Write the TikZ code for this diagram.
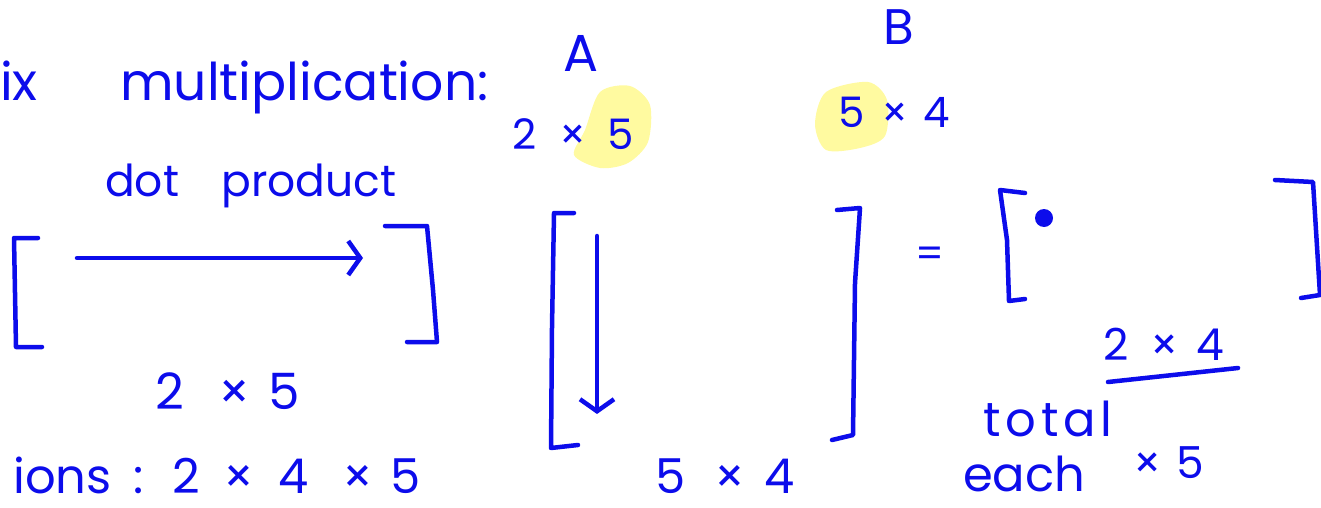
\documentclass[tikz,border=0pt]{standalone}
\usepackage{fontspec}
\setmainfont{Poppins}
\usetikzlibrary{arrows.meta}
\definecolor{ink}{RGB}{12,12,235}
\definecolor{marker}{RGB}{255,250,160}
\newcommand{\gap}[1]{\hspace{#1em}}% espace large de l'ecriture
\tikzset{
  hand_text/.style = {text=ink, inner sep=0pt, anchor=base west,
    font=\fontsize{#1}{#1}\selectfont},% texte a la main
  hand_text/.default = 50,
  hand_line/.style = {draw=ink, line width=4.5pt, line cap=round,
    line join=round},% trait de stylo
  hand_arrow/.style = {hand_line,
    -{Straight Barb[length=12pt, width=34pt]}},% fleche ouverte
  marker_blob/.style = {fill=marker, draw=none}% surligneur jaune
}

\begin{document}
\begin{tikzpicture}[x=1pt, y=-1pt]
  \useasboundingbox (0,0) rectangle (1321,508);
  \clip (0,0) rectangle (1321,508);
  % surligneur
  \fill[marker_blob] plot[smooth cycle] coordinates {(600,92) (630,86) (650,105)
    (648,142) (628,163) (600,168) (574,155) (585,130)};
  \fill[marker_blob] plot[smooth cycle] coordinates {(826,92) (868,82) (887,100)
    (885,136) (860,148) (826,150) (815,124)};
  % titre
  \node [hand_text=52] (title_cut) at (0,101) {ix};
  \node [hand_text=52] (title) at (120,101) {multiplication:};
  \node [hand_text=52] (name_a) at (563,72) {A};
  \node [hand_text=50] (name_b) at (883,45) {B};
  \node [hand_text=42] (dim_a) at (512,149) {2\gap{0.55}×\gap{0.5}5};
  \node [hand_text=42] (dim_b) at (838,128) {5\gap{0.4}×\gap{0.35}4};
  % ligne de A
  \node [hand_text=44] (dot_label) at (105,196) {dot \gap{0.7}product};
  \draw [hand_line] (38,238) -- (14,238) -- (16,347) -- (42,347);
  \coordinate (row_start) at (77,258);
  \coordinate (row_end) at (363,258);
  \draw [hand_arrow] (row_start) -- (row_end);
  \draw [hand_line] (385,226) -- (427,226) -- (433,290) -- (437,342) -- (407,342);
  \node [hand_text=50] (row_dim) at (155,409) {2\gap{0.7}×\gap{0.35}5};
  % colonne de B
  \draw [hand_line] (574,213) -- (554,213) -- (552,327) -- (551,448) -- (578,445);
  \coordinate (col_start) at (597,236);
  \coordinate (col_end) at (597,414);
  \draw [hand_arrow] (col_start) -- (col_end);
  \draw [hand_line] (837,210) -- (860,208) -- (855,283) -- (853,435) -- (832,440);
  \node [hand_text=48] (col_dim) at (655,493) {5\gap{0.6}×\gap{0.4}4};
  % resultat
  \node [hand_text=40, anchor=center] (equals) at (930,257) {=};
  \draw [hand_line] (1025,193) -- (1000,190) -- (1007,240) -- (1009,301) -- (1025,299);
  \fill [ink] (1044,218) circle (9);
  \draw [hand_line] (1275,180) -- (1313,182) -- (1320,295) -- (1301,298);
  \node [hand_text=44] (res_dim) at (1103,360) {2\gap{0.5}×\gap{0.4}4};
  \coordinate (bar_left) at (1108,382);
  \coordinate (bar_right) at (1238,368);
  \draw [hand_line] (bar_left) -- (bar_right);
  \node [hand_text=48] (total) at (983,436) {\addfontfeature{LetterSpace=10}total};
  \node [hand_text=48] (each) at (963,491) {each};
  \node [hand_text=44] (each_mult) at (1133,478) {×\gap{0.35}5};
  % operations
  \node [hand_text=48] (ops) at (13,493)
    {ions\gap{0.45}:\gap{0.6}2\gap{0.5}×\gap{0.5}4\gap{0.7}×\gap{0.35}5};
\end{tikzpicture}
\end{document}
